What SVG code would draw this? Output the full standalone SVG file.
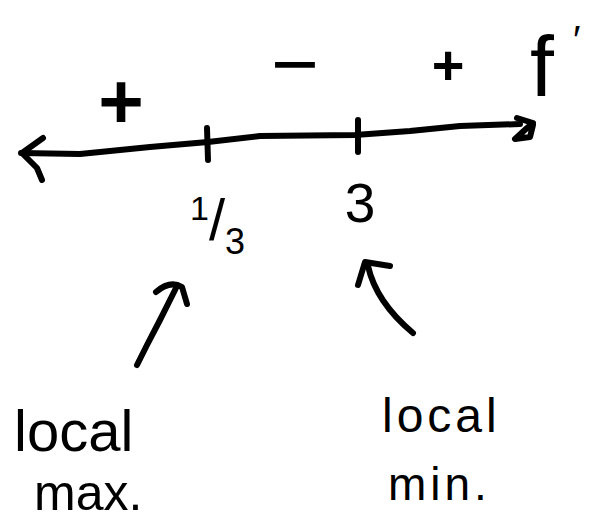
<svg xmlns="http://www.w3.org/2000/svg" width="589" height="523" viewBox="0 0 589 523">
<style>
.ink{stroke:#000;stroke-width:6;fill:none;stroke-linecap:round;stroke-linejoin:round}
.t{font-family:"Liberation Sans",Arial,sans-serif;fill:#000}
</style>
<rect width="589" height="523" fill="#fff"/>
<g id="axis">
  <path class="ink" d="M21,153 L80,154 L150,147 L208,142 L260,136 L355,135 L410,131 L460,126 L520,124"/>
  <path class="ink" d="M43,138 L22,153 L37,168 L42,180"/>
  <path class="ink" d="M517,118 L533,123 L527,128 L515,139 L530,137 L533,125"/>
  <path class="ink" d="M207,128 L208,160"/>
  <path class="ink" d="M358,120 L358,152"/>
</g>
<g id="signs">
  <text class="t" x="121" y="128" font-size="78" font-weight="bold" text-anchor="middle">+</text>
  <text class="t" x="295" y="92" font-size="82" text-anchor="middle">−</text>
  <text class="t" x="448" y="84" font-size="56" font-weight="bold" text-anchor="middle">+</text>
  <text class="t" x="530" y="96" font-size="86">f</text>
  <text class="t" x="573" y="54" font-size="40">′</text>
</g>
<g id="label-third">
  <text class="t" x="190" y="240"><tspan font-size="34" dy="-20">1</tspan><tspan font-size="58" dy="20">/</tspan><tspan font-size="36" dy="14">3</tspan></text>
</g>
<g id="label-three">
  <text class="t" x="360" y="222" font-size="55" text-anchor="middle">3</text>
</g>
<g id="connectors">
  <path class="ink" d="M137,365 L147,345 L160,320 L176,288"/>
  <path class="ink" d="M156,292 Q170,280 182,287 L187,304"/>
  <path class="ink" d="M368,266 Q376,302 413,333"/>
  <path class="ink" d="M358,285 L365,262 L390,266"/>
</g>
<g id="label-max">
  <text class="t" x="14" y="451" font-size="58">local</text>
  <text class="t" x="34" y="510" font-size="50">max.</text>
</g>
<g id="label-min">
  <text class="t" x="382" y="432" font-size="48" letter-spacing="4">local</text>
  <text class="t" x="388" y="500" font-size="46" letter-spacing="4">min.</text>
</g>
</svg>
